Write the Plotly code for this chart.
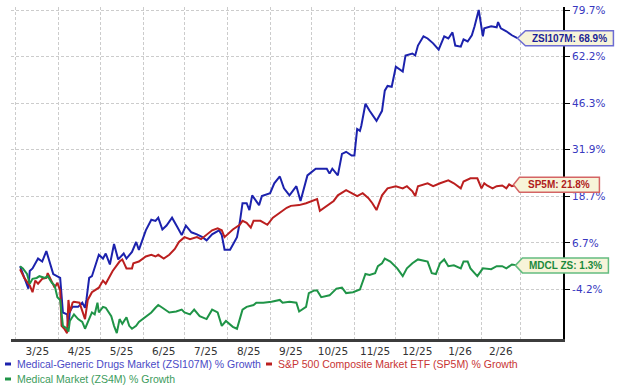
import math
import pandas as pd
import plotly.graph_objects as go

# ---------------- data ----------------
zsi107m_dates = [
    "2025-03-04", "2025-03-10", "2025-03-11", "2025-03-13", "2025-03-17", "2025-03-20", "2025-03-23",
    "2025-03-26", "2025-03-28", "2025-04-02", "2025-04-03", "2025-04-04", "2025-04-07", "2025-04-08",
    "2025-04-09", "2025-04-11", "2025-04-15", "2025-04-18", "2025-04-20", "2025-04-21", "2025-04-23",
    "2025-04-25", "2025-04-30", "2025-05-03", "2025-05-05", "2025-05-08", "2025-05-11", "2025-05-14",
    "2025-05-18", "2025-05-20", "2025-05-24", "2025-05-27", "2025-05-29", "2025-06-03", "2025-06-07",
    "2025-06-10", "2025-06-12", "2025-06-15", "2025-06-18", "2025-06-22", "2025-06-26", "2025-06-29",
    "2025-07-02", "2025-07-06", "2025-07-10", "2025-07-14", "2025-07-17", "2025-07-21", "2025-07-26",
    "2025-07-28", "2025-07-30", "2025-08-03", "2025-08-05", "2025-08-08", "2025-08-10", "2025-08-12",
    "2025-08-15", "2025-08-17", "2025-08-19", "2025-08-22", "2025-08-24", "2025-08-26", "2025-09-01",
    "2025-09-04", "2025-09-08", "2025-09-11", "2025-09-15", "2025-09-20", "2025-09-23", "2025-09-28",
    "2025-10-04", "2025-10-12", "2025-10-14", "2025-10-16", "2025-10-20", "2025-10-23", "2025-10-26",
    "2025-10-30", "2025-11-01", "2025-11-03", "2025-11-05", "2025-11-06", "2025-11-09", "2025-11-12",
    "2025-11-17", "2025-11-21", "2025-11-23", "2025-11-25", "2025-11-28", "2025-12-01", "2025-12-03",
    "2025-12-06", "2025-12-08", "2025-12-13", "2025-12-15", "2025-12-17", "2025-12-21", "2025-12-24",
    "2025-12-28", "2026-01-01", "2026-01-05", "2026-01-08", "2026-01-11", "2026-01-13", "2026-01-17",
    "2026-01-19", "2026-01-22", "2026-01-25", "2026-01-27", "2026-01-30", "2026-02-02", "2026-02-03",
    "2026-02-08", "2026-02-12", "2026-02-13", "2026-02-15", "2026-02-19", "2026-02-23", "2026-02-27",
]
zsi107m_growth = [
    1.1, -4.0, 0.0, 0.6, 2.9, 2.2, 4.7,
    1.5, -0.7, -1.6, -6.5, -9.2, -9.6, -12.0,
    -9.0, -8.0, -8.0, -7.1, -8.2, -6.5, -1.6,
    -1.2, 3.8, 2.9, 4.1, 1.5, 6.4, 2.7,
    4.1, 2.9, 4.5, 6.9, 5.0, 9.8, 12.5,
    12.2, 13.0, 10.0, 11.0, 13.0, 10.5, 8.6,
    11.0, 9.3, 8.8, 8.1, 7.3, 8.8, 9.8,
    8.6, 5.0, 5.0, 6.2, 8.1, 11.7, 16.8,
    16.8, 15.0, 18.9, 17.4, 16.3, 18.7, 19.5,
    22.2, 24.1, 20.8, 18.9, 21.4, 17.4, 24.4,
    26.3, 26.3, 24.9, 26.3, 24.4, 30.6, 31.2,
    30.1, 30.1, 38.1, 37.5, 39.1, 46.1, 43.8,
    40.6, 43.8, 50.4, 52.0, 51.7, 58.6, 57.9,
    56.9, 62.6, 63.3, 62.6, 66.2, 69.6, 68.8,
    67.0, 64.7, 69.6, 68.8, 71.1, 66.2, 65.8,
    68.5, 67.7, 70.0, 73.4, 79.7, 69.6, 72.6,
    73.4, 73.0, 75.0, 72.6, 71.5, 70.0, 68.9,
]

sp5m_dates = [
    "2025-03-04", "2025-03-07", "2025-03-11", "2025-03-13", "2025-03-15", "2025-03-17", "2025-03-20",
    "2025-03-23", "2025-03-24", "2025-03-27", "2025-03-29", "2025-03-31", "2025-04-02", "2025-04-03",
    "2025-04-05", "2025-04-07", "2025-04-08", "2025-04-09", "2025-04-11", "2025-04-12", "2025-04-16",
    "2025-04-20", "2025-04-22", "2025-04-25", "2025-04-30", "2025-05-03", "2025-05-05", "2025-05-10",
    "2025-05-15", "2025-05-17", "2025-05-20", "2025-05-24", "2025-05-25", "2025-05-29", "2025-06-03",
    "2025-06-07", "2025-06-10", "2025-06-12", "2025-06-16", "2025-06-20", "2025-06-24", "2025-06-27",
    "2025-07-01", "2025-07-05", "2025-07-10", "2025-07-13", "2025-07-17", "2025-07-21", "2025-07-25",
    "2025-07-28", "2025-07-30", "2025-08-03", "2025-08-05", "2025-08-10", "2025-08-12", "2025-08-15",
    "2025-08-18", "2025-08-20", "2025-08-25", "2025-08-30", "2025-09-03", "2025-09-08", "2025-09-13",
    "2025-09-16", "2025-09-22", "2025-09-27", "2025-10-05", "2025-10-07", "2025-10-12", "2025-10-17",
    "2025-10-20", "2025-10-26", "2025-10-30", "2025-11-03", "2025-11-07", "2025-11-11", "2025-11-14",
    "2025-11-17", "2025-11-21", "2025-11-25", "2025-12-01", "2025-12-06", "2025-12-09", "2025-12-13",
    "2025-12-15", "2025-12-17", "2025-12-24", "2025-12-28", "2026-01-02", "2026-01-08", "2026-01-12",
    "2026-01-17", "2026-01-19", "2026-01-24", "2026-01-29", "2026-02-01", "2026-02-03", "2026-02-05",
    "2026-02-09", "2026-02-12", "2026-02-16", "2026-02-19", "2026-02-21", "2026-02-23", "2026-02-27",
]
sp5m_growth = [
    0.4, -1.6, -3.3, -4.8, -2.2, -2.9, -1.8,
    -1.6, -0.5, -2.7, -3.8, -2.7, -4.4, -12.0,
    -12.6, -13.5, -6.5, -9.2, -7.1, -6.9, -7.1,
    -10.6, -6.5, -4.8, -3.8, -2.2, -2.9, 0.0,
    2.2, 2.7, 0.6, 0.6, 1.8, 2.2, 3.4,
    3.8, 3.4, 3.8, 2.9, 3.8, 5.2, 6.9,
    8.1, 7.6, 8.1, 7.6, 8.6, 9.8, 10.3,
    9.8, 8.1, 9.3, 10.0, 11.2, 12.2, 11.7,
    10.5, 12.2, 12.2, 11.2, 13.0, 14.3, 15.6,
    16.1, 16.3, 16.8, 17.9, 14.8, 16.1, 17.4,
    18.9, 20.3, 19.5, 18.7, 19.5, 18.2, 16.8,
    15.0, 18.9, 20.8, 21.4, 20.8, 21.4, 20.0,
    18.7, 21.4, 22.2, 21.4, 22.2, 23.0, 22.2,
    20.8, 22.7, 23.6, 23.6, 20.8, 22.2, 21.6,
    20.8, 21.4, 21.6, 20.8, 21.9, 21.4, 21.8,
]

zs4m_dates = [
    "2025-03-04", "2025-03-06", "2025-03-09", "2025-03-11", "2025-03-13", "2025-03-16", "2025-03-18",
    "2025-03-22", "2025-03-24", "2025-03-27", "2025-03-29", "2025-03-31", "2025-04-02", "2025-04-03",
    "2025-04-04", "2025-04-07", "2025-04-08", "2025-04-09", "2025-04-11", "2025-04-12", "2025-04-15",
    "2025-04-18", "2025-04-20", "2025-04-22", "2025-04-25", "2025-04-27", "2025-04-29", "2025-04-30",
    "2025-05-03", "2025-05-05", "2025-05-09", "2025-05-11", "2025-05-13", "2025-05-15", "2025-05-17",
    "2025-05-20", "2025-05-22", "2025-05-24", "2025-05-27", "2025-05-29", "2025-06-03", "2025-06-07",
    "2025-06-10", "2025-06-12", "2025-06-15", "2025-06-20", "2025-06-25", "2025-06-29", "2025-07-01",
    "2025-07-05", "2025-07-08", "2025-07-12", "2025-07-17", "2025-07-21", "2025-07-25", "2025-07-28",
    "2025-07-31", "2025-08-05", "2025-08-08", "2025-08-12", "2025-08-15", "2025-08-20", "2025-08-22",
    "2025-08-27", "2025-09-02", "2025-09-08", "2025-09-10", "2025-09-15", "2025-09-20", "2025-09-22",
    "2025-09-27", "2025-09-29", "2025-10-03", "2025-10-05", "2025-10-08", "2025-10-14", "2025-10-19",
    "2025-10-23", "2025-10-26", "2025-10-31", "2025-11-05", "2025-11-09", "2025-11-12", "2025-11-16",
    "2025-11-18", "2025-11-21", "2025-11-23", "2025-11-27", "2025-12-02", "2025-12-06", "2025-12-09",
    "2025-12-13", "2025-12-17", "2025-12-21", "2025-12-24", "2025-12-27", "2025-12-30", "2026-01-02",
    "2026-01-05", "2026-01-08", "2026-01-12", "2026-01-17", "2026-01-19", "2026-01-22", "2026-01-24",
    "2026-01-27", "2026-01-29", "2026-02-02", "2026-02-08", "2026-02-12", "2026-02-16", "2026-02-19",
    "2026-02-23", "2026-02-27",
]
zs4m_growth = [
    1.1, 0.6, -0.7, -2.9, -1.8, -1.6, -1.2,
    -1.6, -1.2, -2.7, -3.3, -5.9, -6.5, -10.0,
    -12.0, -12.6, -13.2, -11.0, -10.0, -9.6, -10.6,
    -11.2, -12.6, -11.2, -9.2, -9.6, -7.1, -9.2,
    -8.0, -8.2, -10.0, -12.0, -13.5, -10.6, -11.6,
    -10.2, -12.0, -12.6, -12.0, -11.2, -10.2, -9.2,
    -8.2, -7.6, -8.2, -9.2, -9.0, -8.6, -9.2,
    -9.6, -8.6, -10.0, -10.6, -8.6, -9.2, -12.0,
    -11.0, -12.2, -12.6, -8.6, -8.0, -7.6, -7.1,
    -7.1, -6.9, -6.5, -7.1, -6.9, -7.1, -9.0,
    -8.0, -5.0, -4.4, -4.4, -5.9, -5.5, -4.0,
    -3.8, -5.0, -4.8, -4.2, -0.7, -0.9, -0.5,
    1.1, 1.8, 2.9, 2.2, 0.6, -1.2, 0.6,
    1.8, 2.7, 2.4, 2.2, -0.5, -0.7, 1.8,
    2.7, 1.1, 1.3, 0.6, 2.2, 2.2, 0.6,
    -0.5, -1.2, 0.6, 0.4, 1.1, 1.1, 0.6,
    1.5, 1.3,
]

series_names = [
    "Medical-Generic Drugs Market (ZSI107M) % Growth",
    "S&P 500 Composite Market ETF (SP5M) % Growth",
    "Medical Market (ZS4M) % Growth",
]
tag_labels = ["ZSI107M: 68.9%", "SP5M: 21.8%", "MDCL ZS: 1.3%"]
y_tick_values = [79.7, 62.2, 46.3, 31.9, 18.7, 6.7, -4.2]
x_tick_labels = ["3/25", "4/25", "5/25", "6/25", "7/25", "8/25", "9/25",
                 "10/25", "11/25", "12/25", "1/26", "2/26"]

# ---------------- styling ----------------
SCALE_OFFSET = 113.2          # the reference axis is logarithmic in (growth + 113.2)
X_RANGE = ["2025-02-25 10:00", "2026-04-01"]
Y_LOG_RANGE = [1.9935, 2.2880]
LINE_COLORS = ["#1c22ad", "#bb1f1f", "#1f9447"]
LEGEND_TEXT_COLORS = ["#4a4ac6", "#c83434", "#3c9c5c"]
TAG_TEXT_COLORS = ["#1c1f96", "#b01c1c", "#1c8a3c"]
TAG_BORDER_COLORS = ["#6c6cd2", "#d46464", "#64bc80"]
TAG_FILL = "#f7f4d9"
GRID_COLOR = "#cccccc"
AXIS_FONT = "DejaVu Sans"
TEXT_FONT = "Liberation Sans, Arial"

series = [
    (zsi107m_dates, zsi107m_growth),
    (sp5m_dates, sp5m_growth),
    (zs4m_dates, zs4m_growth),
]

fig = go.Figure()
for (dates, growth), name, color in zip(series, series_names, LINE_COLORS):
    fig.add_trace(go.Scatter(
        x=dates, y=[g + SCALE_OFFSET for g in growth], mode="lines", name=name,
        line=dict(color=color, width=2), showlegend=False, hoverinfo="skip",
    ))

month_starts = pd.date_range("2025-03-01", "2026-03-01", freq="MS")
month_centers = [a + (b - a) / 2 for a, b in zip(month_starts[:-1], month_starts[1:])]

fig.update_layout(
    width=620, height=388,
    margin=dict(l=11, r=57, t=4, b=49),
    paper_bgcolor="white", plot_bgcolor="white",
    showlegend=False,
    xaxis=dict(
        type="date", range=X_RANGE,
        tickvals=month_centers, ticktext=x_tick_labels, ticks="",
        showgrid=False, zeroline=False,
        showline=True, linecolor="#3c3c3c", linewidth=3,
        tickfont=dict(family=AXIS_FONT, size=10.5, color="#333333"),
        minor=dict(tick0="2025-03-01", dtick="M1", showgrid=True, gridcolor=GRID_COLOR,
                   gridwidth=1, griddash="3px,2px", ticks=""),
    ),
    yaxis=dict(
        type="log", side="right", range=Y_LOG_RANGE,
        tickvals=[v + SCALE_OFFSET for v in y_tick_values],
        ticktext=[f"{v}%" for v in y_tick_values],
        ticks="outside", ticklen=5, tickcolor="black", tickwidth=1,
        showline=True, linecolor="black", linewidth=2,
        showgrid=True, gridcolor=GRID_COLOR, gridwidth=1, griddash="3px,2px",
        zeroline=False,
        tickfont=dict(family=AXIS_FONT, size=10.5, color="#3838c0"),
    ),
)


def to_paper(date_str, growth):
    """Map a data point to paper fractions through the axis ranges (unclipped shapes)."""
    t0, t1 = pd.Timestamp(X_RANGE[0]), pd.Timestamp(X_RANGE[1])
    fx = (pd.Timestamp(date_str) - t0) / (t1 - t0)
    fy = (math.log10(growth + SCALE_OFFSET) - Y_LOG_RANGE[0]) / (Y_LOG_RANGE[1] - Y_LOG_RANGE[0])
    return fx, fy


# ---- end-of-line tags ----
tag_geometry = [(0, 8, 88), (-4, 6, 80), (-2, 7, 86)]   # tip shift, pointer length, box width (px)
for (dates, growth), label, (tip, ptr, w), tcol, bcol in zip(
        series, tag_labels, tag_geometry, TAG_TEXT_COLORS, TAG_BORDER_COLORS):
    fx, fy = to_paper(dates[-1], growth[-1])
    h = 7.5
    path = (f"M{tip},0 L{tip + ptr},{h} L{tip + ptr + w},{h} "
            f"L{tip + ptr + w},{-h} L{tip + ptr},{-h} Z")
    fig.add_shape(type="path", xref="paper", yref="paper", xsizemode="pixel", ysizemode="pixel",
                  xanchor=fx, yanchor=fy, path=path,
                  fillcolor=TAG_FILL, line=dict(color=bcol, width=1.5), layer="above")
    fig.add_annotation(x=fx, y=fy, xref="paper", yref="paper",
                       text=f"<b>{label}</b>", showarrow=False, xanchor="center", yanchor="middle",
                       xshift=tip + ptr + w / 2,
                       font=dict(family=TEXT_FONT, size=10, color=tcol))

# ---- legend (below the plot) ----
PLOT_LEFT, PLOT_BOTTOM = 11, 339
legend_items = [(16, 364), (277, 364), (16, 379)]   # text start x, row centre y (px)
for name, (tx, ty), lcol, tcol in zip(series_names, legend_items, LINE_COLORS, LEGEND_TEXT_COLORS):
    fig.add_shape(type="line", xref="paper", yref="paper", xsizemode="pixel", ysizemode="pixel",
                  xanchor=0, yanchor=0,
                  x0=tx - 11 - PLOT_LEFT, x1=tx - 5 - PLOT_LEFT,
                  y0=-(ty - PLOT_BOTTOM), y1=-(ty - PLOT_BOTTOM),
                  line=dict(color=lcol, width=3))
    fig.add_annotation(x=0, y=0, xref="paper", yref="paper", text=name, showarrow=False,
                       xanchor="left", yanchor="middle",
                       xshift=tx - PLOT_LEFT - 1, yshift=-(ty - PLOT_BOTTOM),
                       font=dict(family=TEXT_FONT, size=10.5, color=tcol))

fig.write_html("out.html")
